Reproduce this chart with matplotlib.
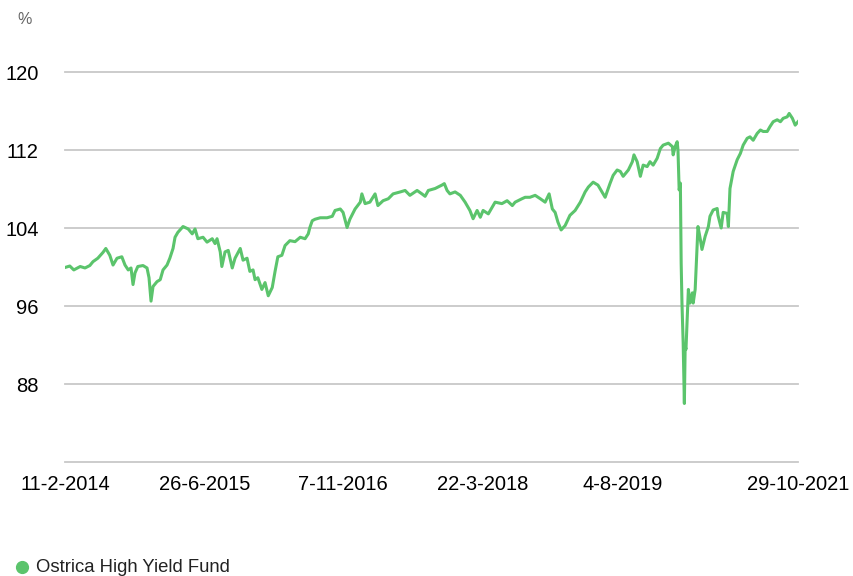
import numpy as np
import matplotlib
matplotlib.use("Agg")
import matplotlib.pyplot as plt

plt.rcParams['font.family'] = ['Liberation Sans', 'DejaVu Sans']

# trading-session index (approx) and fund value in %
session = [
    0, 12, 22, 38, 50, 62, 70, 82, 95, 102,
    112, 120, 130, 142, 150, 158, 165, 170, 175, 182,
    195, 205, 210, 215, 220, 230, 238, 245, 255, 262,
    270, 275, 282, 295, 308, 318, 325, 332, 345, 355,
    368, 375, 380, 388, 392, 400, 408, 418, 425, 438,
    445, 455, 462, 470, 475, 482, 492, 500, 508, 518,
    525, 532, 542, 550, 562, 575, 588, 600, 608, 612,
    618, 625, 638, 655, 668, 675, 688, 695, 705, 712,
    725, 738, 742, 750, 762, 775, 782, 795, 808, 820,
    838, 850, 862, 880, 892, 900, 908, 925, 942, 948,
    955, 962, 975, 988, 1000, 1012, 1020, 1030, 1038, 1045,
    1058, 1075, 1092, 1105, 1118, 1125, 1142, 1150, 1162, 1175,
    1188, 1200, 1210, 1218, 1225, 1232, 1240, 1250, 1262, 1275,
    1288, 1300, 1308, 1320, 1332, 1342, 1350, 1362, 1370, 1380,
    1388, 1395, 1408, 1418, 1422, 1430, 1438, 1445, 1455, 1462,
    1470, 1480, 1488, 1495, 1508, 1518, 1520, 1525, 1530, 1532,
    1535, 1538, 1540, 1542, 1545, 1548, 1550, 1552, 1558, 1562,
    1568, 1570, 1575, 1582, 1588, 1592, 1600, 1608, 1612, 1620,
    1630, 1632, 1640, 1645, 1655, 1658, 1662, 1670, 1680, 1688,
    1695, 1705, 1712, 1720, 1730, 1738, 1745, 1755, 1762, 1770,
    1780, 1788, 1795, 1805, 1810, 1818, 1825, 1832,
]
value = [
    99.95, 100.1, 99.7, 100.05, 99.9, 100.15, 100.55, 100.9, 101.5, 101.9,
    101.2, 100.2, 100.9, 101.05, 100.2, 99.7, 99.9, 98.2, 99.4, 100.05,
    100.15, 99.9, 98.9, 96.5, 98.0, 98.5, 98.7, 99.7, 100.2, 100.9,
    101.9, 103.05, 103.55, 104.15, 103.9, 103.4, 103.9, 102.9, 103.05, 102.55,
    102.9, 102.4, 102.9, 101.55, 100.05, 101.55, 101.7, 99.9, 100.9, 101.9,
    100.7, 100.9, 99.55, 99.7, 98.7, 98.9, 97.7, 98.4, 97.05, 97.9,
    99.55, 101.05, 101.2, 102.2, 102.7, 102.6, 103.05, 102.9, 103.4, 104.05,
    104.75, 104.9, 105.05, 105.05, 105.2, 105.8, 105.95, 105.6, 104.05, 104.9,
    105.95, 106.65, 107.5, 106.5, 106.65, 107.5, 106.3, 106.8, 107.0, 107.5,
    107.7, 107.85, 107.35, 107.85, 107.5, 107.25, 107.85, 108.05, 108.4, 108.55,
    107.85, 107.5, 107.7, 107.35, 106.65, 105.8, 104.95, 105.8, 105.1, 105.8,
    105.45, 106.65, 106.5, 106.8, 106.3, 106.65, 107.0, 107.15, 107.15, 107.35,
    107.0, 106.65, 107.5, 105.95, 105.6, 104.6, 103.8, 104.25, 105.3, 105.8,
    106.65, 107.7, 108.2, 108.7, 108.4, 107.7, 107.15, 108.55, 109.4, 109.95,
    109.8, 109.3, 109.95, 110.8, 111.5, 110.8, 109.3, 110.45, 110.3, 110.8,
    110.45, 111.15, 112.15, 112.5, 112.7, 112.35, 111.5, 112.35, 112.85, 112.0,
    107.9, 108.6, 100.4, 96.3, 92.2, 86.0, 91.9, 91.55, 97.7, 96.3,
    97.35, 96.3, 97.7, 104.15, 102.8, 101.8, 103.15, 104.15, 105.2, 105.85,
    106.0, 105.3, 104.0, 105.6, 105.5, 104.15, 108.05, 109.8, 111.0, 111.65,
    112.5, 113.2, 113.35, 113.0, 113.7, 114.05, 113.9, 113.9, 114.4, 114.9,
    115.1, 114.9, 115.25, 115.4, 115.75, 115.25, 114.55, 114.9,
]

tick_pos = [0, 350, 695, 1045, 1395, 1832]
tick_labels = ["11-2-2014", "26-6-2015", "7-11-2016", "22-3-2018", "4-8-2019", "29-10-2021"]
y_ticks = [80, 88, 96, 104, 112, 120]
y_labels = ["", "88", "96", "104", "112", "120"]

green = "#5bc46c"
grid_c = "#c8c8c8"

fig = plt.figure(figsize=(8.54, 5.76), dpi=100)
ax = fig.add_axes([65 / 854, 114 / 576, 733 / 854, 390 / 576])

for yv in y_ticks:
    ax.axhline(yv, color=grid_c, lw=1.3, zorder=1, clip_on=False)

ax.plot(session, value, color=green, lw=2.2, zorder=3, solid_joinstyle='round')

ax.set_xlim(0, 1832)
ax.set_ylim(80, 120)
for s in ax.spines.values():
    s.set_visible(False)

ax.set_yticks(y_ticks)
ax.set_yticklabels(y_labels, fontsize=14.5)
ax.tick_params(axis='y', length=0, pad=19)
ax.set_xticks(tick_pos)
ax.set_xticklabels(tick_labels, fontsize=14.5)
ax.tick_params(axis='x', length=0, pad=9)

fig.text(25 / 854, 1 - 20 / 576, "%", fontsize=11.5, color="#666666", ha='center', va='center')

# legend
fig.lines.append(plt.Line2D([22 / 854], [1 - 567 / 576], marker='o', markersize=8.5,
                            color=green, transform=fig.transFigure))
fig.text(36 / 854, 1 - 567 / 576, "Ostrica High Yield Fund", fontsize=13.3, color="#222222",
         ha='left', va='center')

fig.savefig("out.png", dpi=100)
